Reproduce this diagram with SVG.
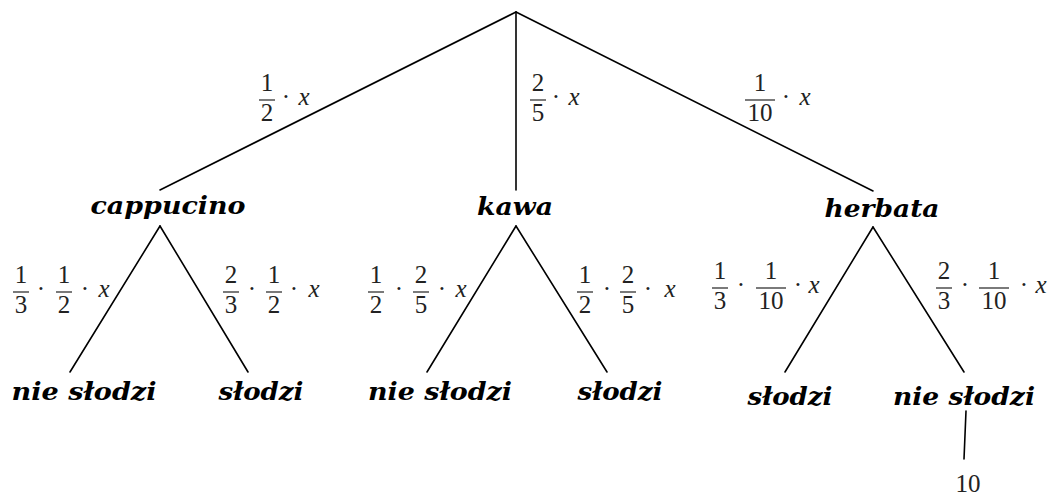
<svg xmlns="http://www.w3.org/2000/svg" width="1051" height="497" viewBox="0 0 1051 497">
<style>
.edge{stroke:#000;stroke-width:1.6;fill:none;stroke-linecap:round}
.bar{stroke:#222;stroke-width:1.2}
.lbl{font-family:"DejaVu Serif","Liberation Serif",serif;font-weight:bold;font-style:italic;font-size:25px;fill:#000;text-anchor:middle}
.d{font-family:"Liberation Serif","DejaVu Serif",serif;font-size:25px;fill:#222;text-anchor:middle}
.v{font-family:"Liberation Serif","DejaVu Serif",serif;font-style:italic;font-size:25px;fill:#222;text-anchor:middle}
</style>
<rect width="1051" height="497" fill="#fff"/>
<g id="connectors">
<line class="edge" x1="516" y1="12" x2="160" y2="190"/>
<line class="edge" x1="516" y1="12" x2="516" y2="190"/>
<line class="edge" x1="516" y1="12" x2="873" y2="191"/>
<line class="edge" x1="160" y1="226" x2="70" y2="372"/>
<line class="edge" x1="160" y1="226" x2="248" y2="372"/>
<line class="edge" x1="516" y1="226" x2="427" y2="372"/>
<line class="edge" x1="516" y1="226" x2="607" y2="372"/>
<line class="edge" x1="873" y1="227" x2="785" y2="372"/>
<line class="edge" x1="873" y1="227" x2="964" y2="372"/>
<line class="edge" x1="966" y1="411" x2="964" y2="459"/>
</g>
<g id="edge-labels">
<g id="l-cap">
<text class="d" x="267" y="91">1</text><line class="bar" x1="259" y1="100" x2="275" y2="100"/><text class="d" x="267" y="121">2</text>
<text class="d" x="286" y="105">·</text><text class="v" x="304" y="105">x</text>
</g>
<g id="l-kawa">
<text class="d" x="538" y="91">2</text><line class="bar" x1="530" y1="100" x2="546" y2="100"/><text class="d" x="538" y="121">5</text>
<text class="d" x="556" y="105">·</text><text class="v" x="574" y="105">x</text>
</g>
<g id="l-herb">
<text class="d" x="760" y="91">1</text><line class="bar" x1="745" y1="100" x2="775" y2="100"/><text class="d" x="760" y="121">10</text>
<text class="d" x="786" y="105">·</text><text class="v" x="805" y="105">x</text>
</g>
<g id="l-cap-l">
<text class="d" x="21" y="283">1</text><line class="bar" x1="13" y1="292" x2="29" y2="292"/><text class="d" x="21" y="313">3</text>
<text class="d" x="41" y="297">·</text>
<text class="d" x="64" y="283">1</text><line class="bar" x1="56" y1="292" x2="72" y2="292"/><text class="d" x="64" y="313">2</text>
<text class="d" x="85" y="297">·</text><text class="v" x="104" y="297">x</text>
</g>
<g id="l-cap-r">
<text class="d" x="231" y="283">2</text><line class="bar" x1="223" y1="292" x2="239" y2="292"/><text class="d" x="231" y="313">3</text>
<text class="d" x="252" y="297">·</text>
<text class="d" x="274" y="283">1</text><line class="bar" x1="266" y1="292" x2="282" y2="292"/><text class="d" x="274" y="313">2</text>
<text class="d" x="294" y="297">·</text><text class="v" x="314" y="297">x</text>
</g>
<g id="l-kawa-l">
<text class="d" x="376" y="283">1</text><line class="bar" x1="368" y1="292" x2="384" y2="292"/><text class="d" x="376" y="313">2</text>
<text class="d" x="399" y="297">·</text>
<text class="d" x="421" y="283">2</text><line class="bar" x1="413" y1="292" x2="429" y2="292"/><text class="d" x="421" y="313">5</text>
<text class="d" x="442" y="297">·</text><text class="v" x="461" y="297">x</text>
</g>
<g id="l-kawa-r">
<text class="d" x="585" y="283">1</text><line class="bar" x1="577" y1="292" x2="593" y2="292"/><text class="d" x="585" y="313">2</text>
<text class="d" x="607" y="297">·</text>
<text class="d" x="628" y="283">2</text><line class="bar" x1="620" y1="292" x2="636" y2="292"/><text class="d" x="628" y="313">5</text>
<text class="d" x="648" y="297">·</text><text class="v" x="670" y="297">x</text>
</g>
<g id="l-herb-l">
<text class="d" x="720" y="279">1</text><line class="bar" x1="712" y1="288" x2="728" y2="288"/><text class="d" x="720" y="309">3</text>
<text class="d" x="741" y="293">·</text>
<text class="d" x="771" y="279">1</text><line class="bar" x1="756" y1="288" x2="786" y2="288"/><text class="d" x="771" y="309">10</text>
<text class="d" x="798" y="293">·</text><text class="v" x="814" y="293">x</text>
</g>
<g id="l-herb-r">
<text class="d" x="944" y="279">2</text><line class="bar" x1="936" y1="288" x2="952" y2="288"/><text class="d" x="944" y="309">3</text>
<text class="d" x="965" y="293">·</text>
<text class="d" x="994" y="279">1</text><line class="bar" x1="979" y1="288" x2="1009" y2="288"/><text class="d" x="994" y="309">10</text>
<text class="d" x="1024" y="293">·</text><text class="v" x="1041" y="293">x</text>
</g>
</g>
<g id="n-cappucino"><text class="lbl" x="168" y="214" textLength="155" lengthAdjust="spacingAndGlyphs">cappucino</text></g>
<g id="n-kawa"><text class="lbl" x="515" y="215" textLength="76" lengthAdjust="spacingAndGlyphs">kawa</text></g>
<g id="n-herbata"><text class="lbl" x="882" y="217" textLength="115" lengthAdjust="spacingAndGlyphs">herbata</text></g>
<g id="n-cap-nie"><text class="lbl" x="84" y="400" textLength="145" lengthAdjust="spacingAndGlyphs">nie słodzi</text></g>
<g id="n-cap-slodzi"><text class="lbl" x="261" y="400" textLength="85" lengthAdjust="spacingAndGlyphs">słodzi</text></g>
<g id="n-kawa-nie"><text class="lbl" x="440" y="400" textLength="144" lengthAdjust="spacingAndGlyphs">nie słodzi</text></g>
<g id="n-kawa-slodzi"><text class="lbl" x="620" y="400" textLength="85" lengthAdjust="spacingAndGlyphs">słodzi</text></g>
<g id="n-herb-slodzi"><text class="lbl" x="790" y="405" textLength="85" lengthAdjust="spacingAndGlyphs">słodzi</text></g>
<g id="n-herb-nie"><text class="lbl" x="964" y="405" textLength="142" lengthAdjust="spacingAndGlyphs">nie słodzi</text></g>
<g id="n-10"><text class="d" x="968" y="492">10</text></g>
</svg>
